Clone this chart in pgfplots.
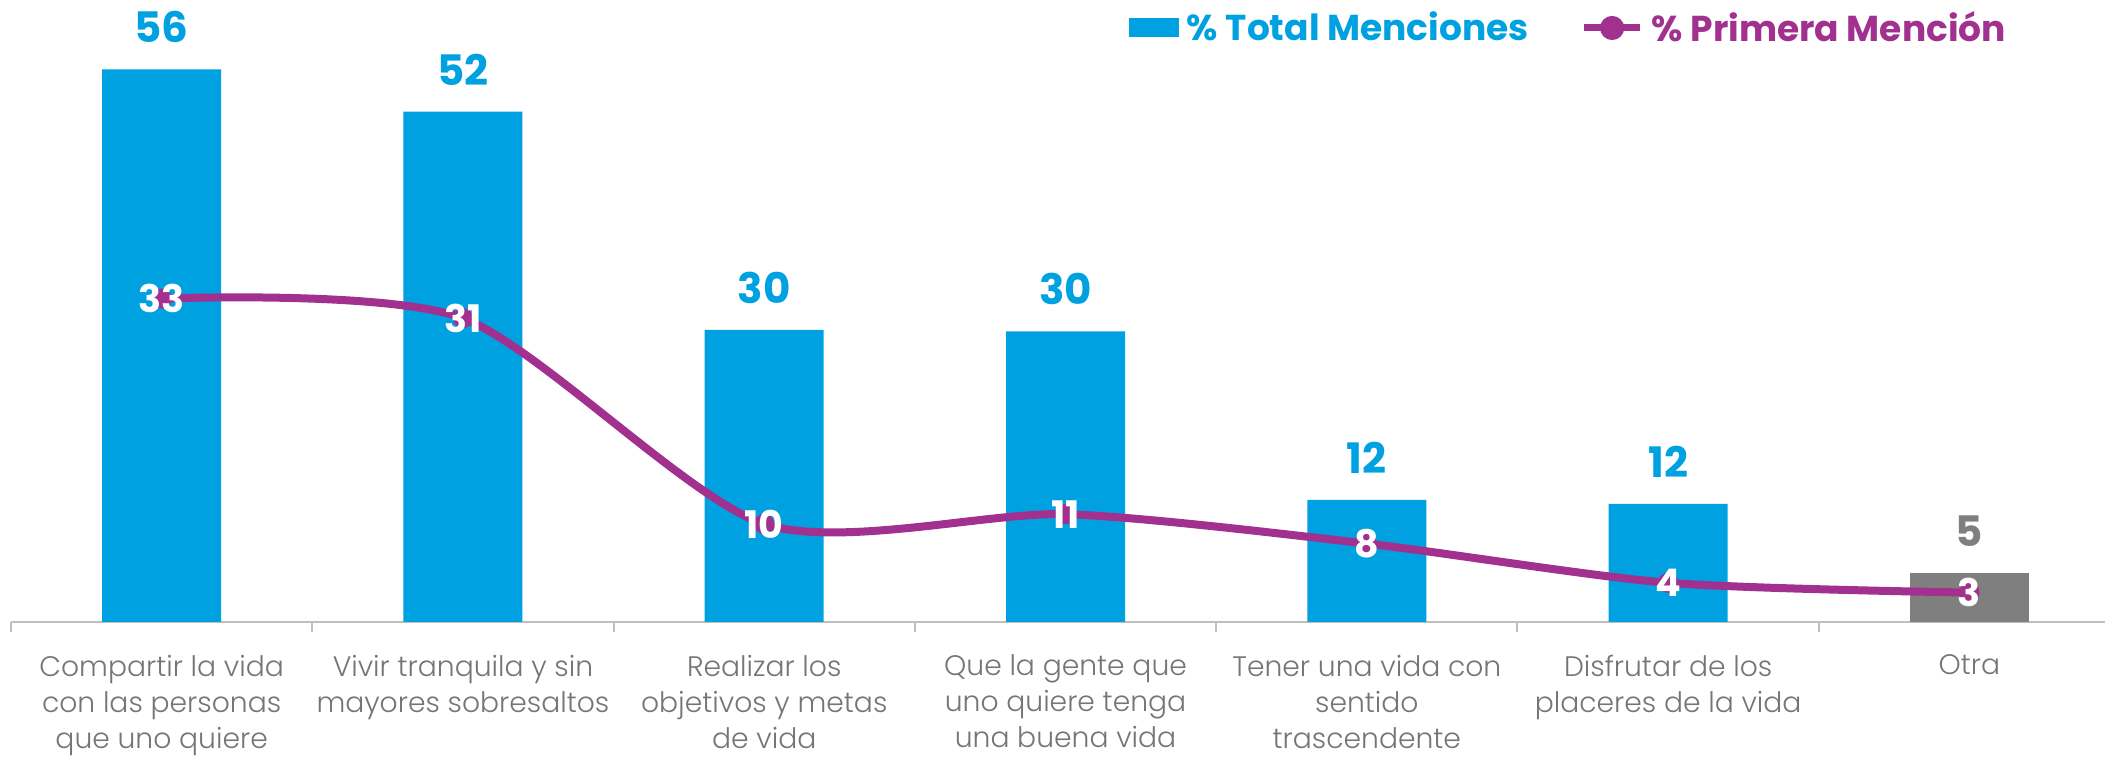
\documentclass[border=0pt]{standalone}
\usepackage{fontspec}
\setmainfont{Poppins}[UprightFont=* Light, BoldFont=* Bold]
\usepackage{pgfplots}
\pgfplotsset{compat=1.18}
\definecolor{cblue}{HTML}{00A1E0}
\definecolor{cpurple}{HTML}{A1308F}
\definecolor{cgray}{HTML}{7F7F7F}
\definecolor{ctext}{HTML}{757575}
\definecolor{caxis}{HTML}{BFBFBF}
\begin{document}
\begin{tikzpicture}
\begin{axis}[
  scale only axis,
  width=1047pt, height=311pt,
  xmin=-0.5, xmax=6.45,
  ymin=0, ymax=63.47,
  axis x line*=bottom,
  axis y line=none,
  x axis line style={caxis, line width=1pt},
  xtick={-0.5,0.5,1.5,2.5,3.5,4.5,5.5},
  xticklabels={},
  major tick length=5pt,
  tick align=outside,
  x tick style={caxis, line width=1pt},
  extra x ticks={0,1,2,3,4,5,6},
  extra x tick labels={
    {Compartir la vida\\con las personas\\que uno quiere},
    {Vivir tranquila y sin\\mayores sobresaltos},
    {Realizar los\\objetivos y metas\\de vida},
    {Que la gente que\\uno quiere tenga\\una buena vida},
    {Tener una vida con\\sentido\\trascendente},
    {Disfrutar de los\\placeres de la vida},
    {Otra}},
  extra x tick style={major tick length=0pt,
    xticklabel style={align=center, font=\fontsize{14.1}{18}\selectfont, text=ctext, yshift=-13pt}},
  clip=false,
  legend columns=2,
  legend style={draw=none, fill=none, at={(0.9548,0.955)}, anchor=east,
    font=\fontsize{18}{20}\selectfont\bfseries,
    /tikz/every even column/.append style={column sep=24pt},
    /tikz/every odd column/.append style={column sep=2pt},
    inner sep=0pt},
  legend cell align=left,
]
\addplot[ybar, bar width=59.5pt, bar shift=0pt, fill=cblue, draw=none,
  nodes near coords, point meta=explicit symbolic,
  every node near coord/.append style={font=\fontsize{21}{22}\selectfont\bfseries, text=cblue, anchor=south, inner sep=0pt, yshift=13pt},
  legend image code/.code={\fill[cblue] (0pt,-4.75pt) rectangle (25pt,4.75pt);}]
  coordinates {(0,56.4)[56] (1,52.07)[52] (2,29.8)[30] (3,29.66)[30] (4,12.45)[12] (5,12.04)[12]};
\addlegendentry{\textcolor{cblue}{\% Total Menciones}}
\addplot[ybar, bar width=59.5pt, bar shift=0pt, fill=cgray, draw=none,
  nodes near coords, point meta=explicit symbolic,
  every node near coord/.append style={font=\fontsize{21}{22}\selectfont\bfseries, text=cgray, anchor=south, inner sep=0pt, yshift=13pt},
  forget plot]
  coordinates {(6,5.03)[5]};
\addplot[cpurple, line width=4pt, smooth, tension=0.45, mark=*, mark size=3pt,
  nodes near coords, point meta=explicit symbolic,
  every node near coord/.append style={font=\fontsize{19}{20}\selectfont\bfseries, text=white, anchor=center, inner sep=0pt},
  legend image code/.code={\draw[cpurple, line width=3.5pt] (0pt,0pt) -- (28pt,0pt); \fill[cpurple] (14pt,0pt) circle (4pt);}]
  coordinates {(0,33)[33] (1,31)[31] (2,10)[10] (3,11)[11] (4,8)[8] (5,4)[4] (6,3)[3]};
\addlegendentry{\textcolor{cpurple}{\% Primera Mención}}
\end{axis}
\pgfresetboundingbox
\useasboundingbox ([xshift=-5.5pt,yshift=-68pt]current axis.south west) rectangle (current axis.north east);
\end{tikzpicture}
\end{document}
